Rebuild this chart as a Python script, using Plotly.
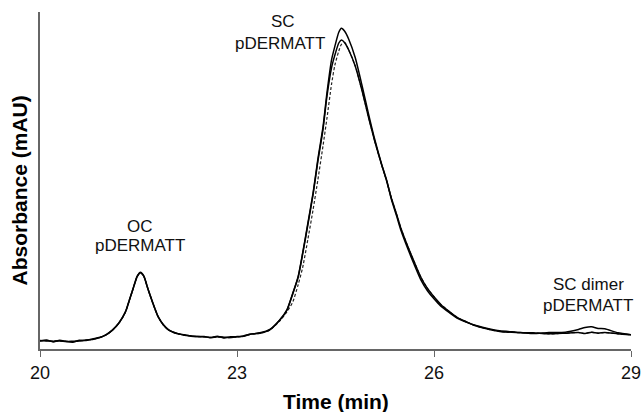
import plotly.graph_objects as go

# Retention time (min)
time_min = [20.0, 20.1, 20.2, 20.3, 20.4, 20.5, 20.6, 20.7, 20.8, 20.9,
            21.0, 21.1, 21.2, 21.3, 21.36, 21.42, 21.48, 21.53, 21.58, 21.65,
            21.72, 21.8, 21.88, 21.96, 22.08, 22.2, 22.3, 22.4, 22.5, 22.6,
            22.7, 22.8, 22.9, 23.0, 23.1, 23.2, 23.35, 23.5, 23.65, 23.76,
            23.85, 23.93, 24.0, 24.08, 24.16, 24.23, 24.31, 24.37, 24.44, 24.49,
            24.55, 24.59, 24.64, 24.7, 24.8, 24.9, 25.0, 25.1, 25.2, 25.28,
            25.35, 25.43, 25.5, 25.6, 25.7, 25.8, 25.9, 26.0, 26.1, 26.24,
            26.35, 26.5, 26.6, 26.8, 27.0, 27.25, 27.5, 27.75, 28.0, 28.2,
            28.3, 28.4, 28.5, 28.6, 28.8, 29.0]

# Absorbance, run 1 (highest SC peak)
run_1 = [2.4, 2.7, 2.1, 2.6, 2.2, 2.0, 2.6, 2.5, 3.0, 3.4,
         4.2, 5.6, 7.7, 11.0, 14.5, 18.1, 21.6, 22.8, 21.7, 17.5,
         13.6, 9.5, 7.1, 5.6, 4.7, 4.1, 3.9, 3.7, 3.6, 3.4,
         3.8, 3.3, 3.6, 3.6, 3.9, 4.4, 4.8, 5.8, 8.6, 11.6,
         16.6, 21.4, 28.5, 37.4, 46.5, 56.1, 65.9, 76.0, 85.8, 89.8,
         94.0, 95.2, 94.3, 92.0, 86.5, 78.5, 70.0, 62.0, 55.0, 50.0,
         44.5, 39.5, 35.0, 29.8, 25.0, 20.5, 17.3, 14.9, 12.8, 10.7,
         9.2, 7.9, 7.2, 6.2, 5.4, 5.0, 4.6, 4.9, 5.0, 5.8,
         6.4, 6.6, 6.1, 6.0, 4.8, 4.2]

# Absorbance, run 2
run_2 = [2.5, 2.4, 2.3, 2.4, 2.2, 2.3, 2.4, 2.7, 2.8, 3.3,
         4.1, 5.5, 7.6, 10.9, 14.4, 18.0, 21.5, 22.6, 21.6, 17.4,
         13.5, 9.6, 7.2, 5.7, 4.6, 4.2, 3.8, 3.7, 3.7, 3.4,
         3.6, 3.5, 3.4, 3.7, 3.8, 4.4, 4.7, 5.7, 8.5, 11.5,
         16.4, 21.2, 28.2, 37.0, 46.0, 55.5, 65.2, 75.0, 83.5, 87.2,
         90.8, 91.7, 90.9, 88.8, 84.0, 77.0, 69.0, 61.5, 54.8, 49.8,
         44.8, 40.0, 35.6, 30.5, 25.8, 21.3, 18.0, 15.5, 13.3, 11.0,
         9.4, 8.0, 7.1, 6.0, 5.2, 4.9, 4.8, 4.5, 4.7, 4.9,
         4.6, 5.0, 4.7, 4.9, 4.5, 4.2]

# Absorbance, run 3 (dashed)
run_3 = [2.4, 2.5, 2.3, 2.4, 2.3, 2.2, 2.4, 2.6, 2.9, 3.3,
         4.1, 5.5, 7.6, 10.9, 14.4, 18.0, 21.5, 22.6, 21.6, 17.4,
         13.5, 9.5, 7.1, 5.6, 4.6, 4.1, 3.8, 3.7, 3.6, 3.4,
         3.6, 3.4, 3.4, 3.6, 3.8, 4.3, 4.7, 5.6, 8.3, 11.0,
         14.0, 19.0, 24.2, 32.6, 41.5, 50.0, 60.3, 68.5, 78.6, 84.2,
         88.4, 90.4, 90.9, 88.8, 84.0, 77.0, 69.0, 61.5, 54.8, 49.8,
         44.8, 40.0, 35.6, 30.5, 25.8, 21.3, 18.0, 15.5, 13.3, 11.0,
         9.4, 8.0, 7.1, 6.0, 5.2, 4.9, 4.8, 4.5, 4.7, 4.9,
         4.6, 5.0, 4.7, 4.9, 4.5, 4.2]

x_ticks = [20, 23, 26, 29]
peak_labels = [("OC", 21.52, 36.3), ("pDERMATT", 21.52, 30.6),
               ("SC", 23.70, 97.3), ("pDERMATT", 23.65, 90.6),
               ("SC dimer", 28.35, 19.0), ("pDERMATT", 28.35, 12.8)]

assert len(time_min) == len(run_1) == len(run_2) == len(run_3)

FONT = "Liberation Sans, Arial, sans-serif"

fig = go.Figure()
fig.add_trace(go.Scatter(x=time_min, y=run_3, mode="lines",
                         line=dict(color="#222", width=1.2, dash="3px,2px", shape="spline", smoothing=0.6),
                         showlegend=False, hoverinfo="skip"))
fig.add_trace(go.Scatter(x=time_min, y=run_2, mode="lines",
                         line=dict(color="black", width=1.5, shape="spline", smoothing=0.6),
                         showlegend=False))
fig.add_trace(go.Scatter(x=time_min, y=run_1, mode="lines",
                         line=dict(color="black", width=1.5, shape="spline", smoothing=0.6),
                         showlegend=False))

for text, x, y in peak_labels:
    fig.add_annotation(x=x, y=y, text=text, showarrow=False,
                       font=dict(family=FONT, size=17, color="#111"),
                       xanchor="center", yanchor="middle")

# axis titles
fig.add_annotation(xref="paper", yref="paper", x=-0.0347, y=0.472,
                   text="Absorbance (mAU)", textangle=-90, showarrow=False,
                   font=dict(family=FONT, size=21, color="black", weight="bold"),
                   xanchor="center", yanchor="middle")
fig.add_annotation(xref="paper", yref="paper", x=0.5, y=-0.157,
                   text="Time (min)", showarrow=False,
                   font=dict(family=FONT, size=21, color="black", weight="bold"),
                   xanchor="center", yanchor="middle")

fig.update_layout(
    width=641, height=412,
    margin=dict(l=40, r=10, t=12, b=63),
    paper_bgcolor="white", plot_bgcolor="white",
    font=dict(family=FONT, color="black"),
)
fig.update_xaxes(range=[20, 29], tickvals=x_ticks, ticktext=[str(v) for v in x_ticks],
                 automargin=False, ticklabeloverflow="allow",
                 showgrid=False, zeroline=False,
                 showline=True, linecolor="#666", linewidth=2,
                 ticks="outside", ticklen=6, tickcolor="#666", tickwidth=1,
                 tickfont=dict(family=FONT, size=18, color="#111"))
fig.update_yaxes(range=[0, 100], automargin=False, showgrid=False, zeroline=False,
                 showline=True, linecolor="#666", linewidth=1.5,
                 showticklabels=False, ticks="")

fig.write_html("out.html")
